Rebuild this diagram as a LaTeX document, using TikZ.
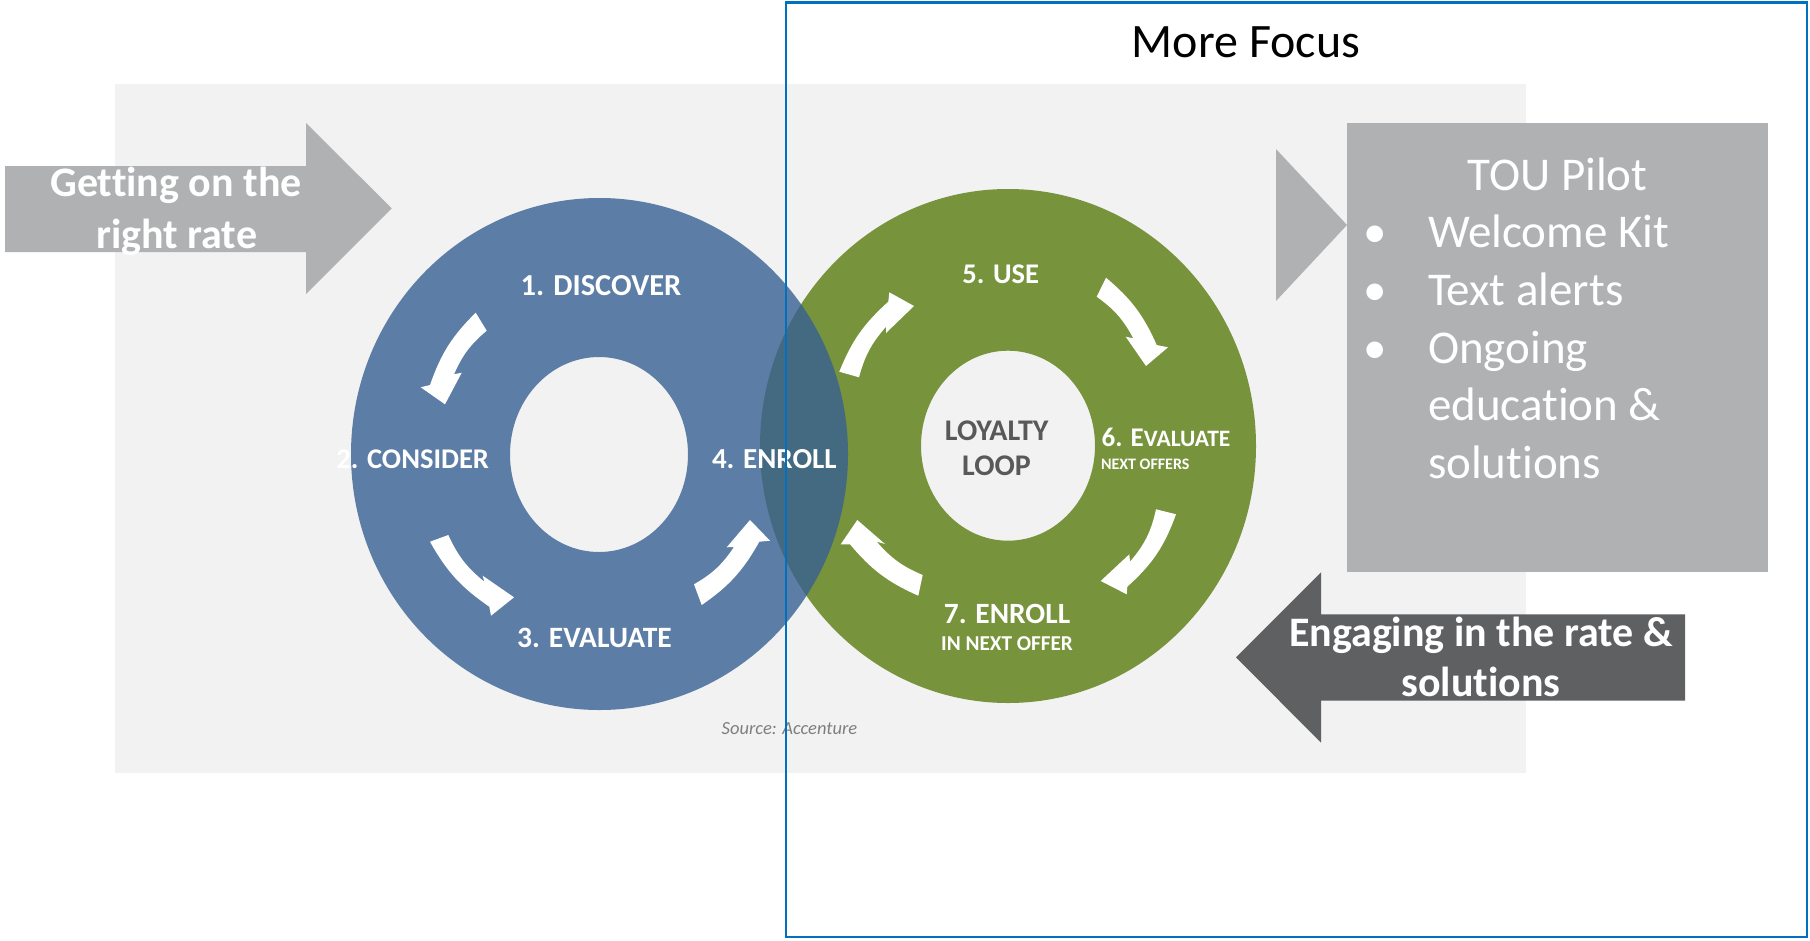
\documentclass[tikz,border=0pt]{standalone}
\usepackage{fontspec}
\setmainfont{Carlito}[Ligatures=NoCommon]
\newcommand{\fsz}[1]{\fontsize{#1}{#1}\selectfont}
\definecolor{bluering}{HTML}{376092}
\definecolor{greenring}{HTML}{77933C}
\definecolor{panel}{HTML}{F2F2F2}
\definecolor{lightarrow}{HTML}{B0B1B3}
\definecolor{darkarrow}{HTML}{5F6062}
\definecolor{frameblue}{HTML}{0070C0}
\definecolor{loopgray}{HTML}{595959}
\definecolor{sourcegray}{HTML}{7F7F7F}
\begin{document}
\begin{tikzpicture}[x=1pt,y=-1pt,
  txt/.style={inner sep=0pt, outer sep=0pt, anchor=base},
  whitetxt/.style={txt, text=white, font=\bfseries\fsz{#1}},
  boxtxt/.style={txt, anchor=base west, text=white, font=\fsz{47}},
  cycarrow/.style={fill=white}]
\useasboundingbox (0,0) rectangle (1810,940);
\fill[white] (0,0) rectangle (1810,940);
% light panel behind the two cycles
\fill[panel] (115,84) rectangle (1526,773);

% entry arrow
\fill[lightarrow] (5,166) -- (306,166) -- (306,123) -- (391.7,208.3) -- (306,294)
  -- (306,252) -- (5,252) -- cycle;
\node[whitetxt=42] (get1) at (176,196.7) {Getting on the};
\node[whitetxt=42] (get2) at (176.7,248.3) {right rate};

% the two rings (blue one semi-transparent on top)
\fill[greenring, even odd rule] (1008,446) ellipse [x radius=248pt, y radius=257pt]
  (1008,445.7) ellipse [x radius=87pt, y radius=95pt];
\fill[bluering, fill opacity=0.8, even odd rule] (599.5,454) ellipse [x radius=248.5pt, y radius=256pt]
  (599,454.5) ellipse [x radius=89pt, y radius=97.5pt];

% cycle arrows, blue ring (counter-clockwise)
\fill[cycarrow] (475.7,312.7) to[bend right=13] (430,385) -- (420.7,387.3) -- (445,404.3)
  -- (461.7,372.7) -- (454,374.3) to[bend left=13] (486.7,330.7) -- cycle;
\fill[cycarrow] (430,541.7) to[bend right=13] (489.3,606.7) -- (491,615.7) -- (514,597.3)
  -- (482.7,575.7) -- (484.3,581.7) to[bend left=13] (448.3,535) -- cycle;
\fill[cycarrow] (701.7,605) to[bend right=13] (759.3,541.7) -- (770,540.7) -- (750,520)
  -- (726.7,547.3) -- (734,547) to[bend left=13] (694,584.3) -- cycle;

% cycle arrows, green ring (clockwise)
\fill[cycarrow] (839.3,371.7) to[bend left=13] (888.3,301.7) -- (889.3,292.3) -- (914,306)
  -- (886,333) -- (886,326.7) to[bend right=13] (859,377.3) -- cycle;
\fill[cycarrow] (1106,277.7) to[bend left=13] (1156.7,345) -- (1168,347.3) -- (1146,366)
  -- (1125.7,336.7) -- (1133.3,338.3) to[bend right=13] (1096.7,296.7) -- cycle;
\fill[cycarrow] (1176,514.3) to[bend left=14] (1127.3,586.7) -- (1126.7,594.3) -- (1100.7,581)
  -- (1129.3,554.3) -- (1130,561.7) to[bend right=14] (1156,509.3) -- cycle;
\fill[cycarrow] (918.3,595.7) to[bend left=13] (850,544.3) -- (840.7,544.3) -- (857.3,520)
  -- (885,544) -- (876.7,541.7) to[bend right=13] (922.7,575) -- cycle;

% blue ring labels
\node[whitetxt=30.5] (discover) at (601,295) {1. DISCOVER};
\node[whitetxt=28.5, anchor=base east] (consider) at (489,468) {2. CONSIDER};
\node[whitetxt=29.5] (evaluate) at (594.5,647) {3. EVALUATE};
\node[whitetxt=29, anchor=base west] (enroll) at (712,468) {4. ENROLL};

% green ring labels
\node[whitetxt=28.5] (use) at (1000.8,283.3) {5. USE};
\node[txt, anchor=base west, text=white, font=\bfseries] (evalnext) at (1101.7,446.7)
  {{\fsz{27}6. E}{\fsz{23.5}VALUATE}};
\node[whitetxt=16, anchor=base west] (nextoffers) at (1101,469.3) {NEXT OFFERS};
\node[whitetxt=29.4] (enrollnext) at (1007,623.3) {7. ENROLL};
\node[whitetxt=21.2] (innext) at (1007,650) {IN NEXT OFFER};
\node[txt, text=loopgray, font=\bfseries\fsz{30}] (loyalty) at (996.7,440.7) {LOYALTY};
\node[txt, text=loopgray, font=\bfseries\fsz{30}] (loop) at (996.5,475.7) {LOOP};

% pilot panel with pointer
\fill[lightarrow] (1276,149) -- (1347,225) -- (1276,301) -- cycle;
\fill[lightarrow] (1347,123) rectangle (1768,572);
\node[txt, text=white, font=\fsz{47}] (tou) at (1557.5,190.7) {TOU Pilot};
\node[txt, text=white, font=\fsz{47}] (b1) at (1375,247.7) {•};
\node[txt, text=white, font=\fsz{47}] (b2) at (1375,305) {•};
\node[txt, text=white, font=\fsz{47}] (b3) at (1375,363) {•};
\node[boxtxt] (kit) at (1428,247.7) {Welcome Kit};
\node[boxtxt] (alerts) at (1428,305) {Text alerts};
\node[boxtxt] (ongoing) at (1428,363) {Ongoing};
\node[boxtxt] (education) at (1428,420.7) {education \&};
\node[boxtxt] (solutions) at (1428,478) {solutions};

% return arrow
\fill[darkarrow] (1685,614.3) -- (1321,614.3) -- (1321,572.3) -- (1236,657.3) -- (1321,742.7)
  -- (1321,700.7) -- (1685,700.7) -- cycle;
\node[whitetxt=42] (engage1) at (1481,646) {Engaging in the rate \&};
\node[whitetxt=42] (engage2) at (1481,696.7) {solutions};

% source line
\node[txt, anchor=base west, text=sourcegray, font=\itshape\fsz{18.5}] (source) at (721.7,734.3) {Source: Accenture};

% focus frame
\draw[frameblue, line width=2.5pt] (786,2.5) rectangle (1807,937);
\node[txt, font=\fsz{48}] (focus) at (1246,57) {More Focus};
\end{tikzpicture}
\end{document}
